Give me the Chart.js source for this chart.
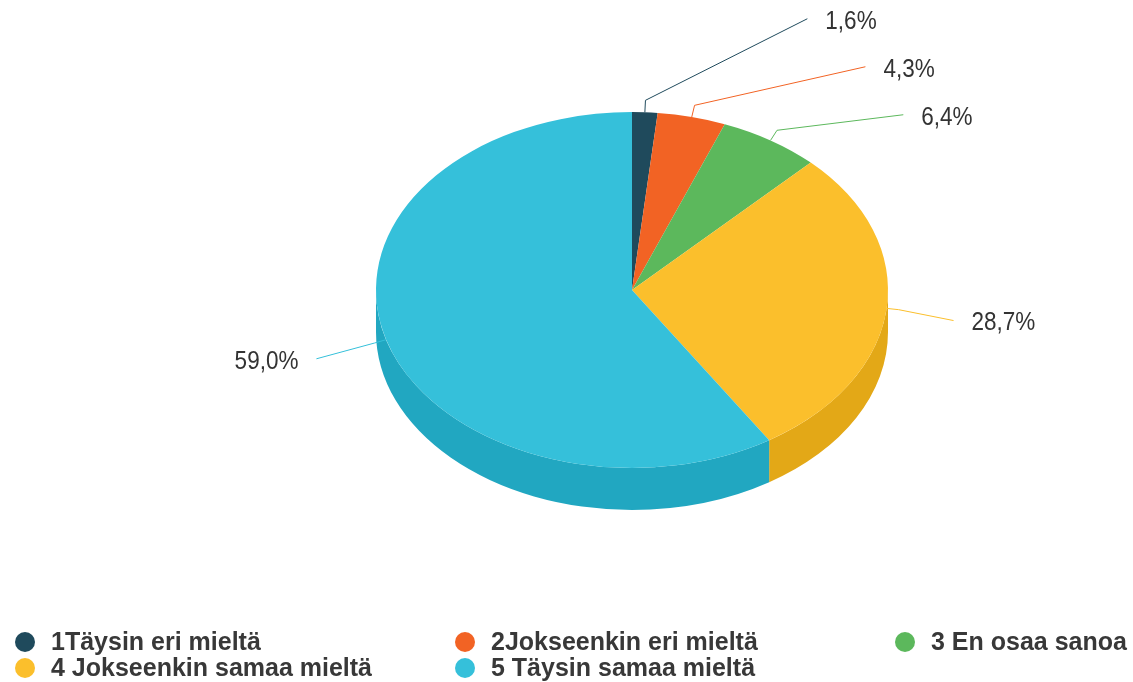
<!DOCTYPE html>
<html>
<head>
<meta charset="utf-8">
<script src="https://cdn.jsdelivr.net/npm/chart.js@4"></script>
<style>
  body { margin: 0; background: #fff; }
  canvas { display: block; }
</style>
</head>
<body>
<canvas id="pie3d" width="1133" height="682"></canvas>
<script>
const labels = ['1Täysin eri mieltä', '2Jokseenkin eri mieltä', '3 En osaa sanoa', '4 Jokseenkin samaa mieltä', '5 Täysin samaa mieltä'];
const values = [1.6, 4.3, 6.4, 28.7, 59.0];
const colors = ['#1f4a5c', '#f26324', '#5cb85c', '#fbbf2c', '#35c0da'];
const sideColors = ['#173a48', '#d4531b', '#4a9e4a', '#e3a817', '#21a7c1'];

const tilt = 0.695;   // vertical squash of the top face
const depth = 42;     // thickness of the pie

function fmt(v) {
    return v.toFixed(1).replace('.', ',') + '%';
}

// draws the side wall, then squashes the top face
const pie3d = {
    id: 'pie3d',
    beforeDatasetsDraw(chart) {
        const ctx = chart.ctx;
        const arcs = chart.getDatasetMeta(0).data;
        const cx = arcs[0].x, cy = arcs[0].y, r = arcs[0].outerRadius;
        const ry = r * tilt;
        arcs.forEach((arc, i) => {
            let a1 = Math.max(arc.startAngle, 0);
            let a2 = Math.min(arc.endAngle, Math.PI);
            if (a2 <= a1) return;
            ctx.beginPath();
            ctx.ellipse(cx, cy, r, ry, 0, a1, a2);
            ctx.ellipse(cx, cy + depth, r, ry, 0, a2, a1, true);
            ctx.closePath();
            ctx.fillStyle = sideColors[i];
            ctx.fill();
        });
        ctx.save();
        ctx.translate(0, cy);
        ctx.scale(1, tilt);
        ctx.translate(0, -cy);
    },
    afterDatasetsDraw(chart) {
        chart.ctx.restore();
    },
    afterDraw(chart) {
        const ctx = chart.ctx;
        const arcs = chart.getDatasetMeta(0).data;
        const cx = arcs[0].x, cy = arcs[0].y, r = arcs[0].outerRadius;
        const ry = r * tilt;
        const R = r + 67;

        // label positions, pushed apart on each side
        const items = arcs.map((arc, i) => {
            const mid = (arc.startAngle + arc.endAngle) / 2;
            return {
                i: i,
                mid: mid,
                right: Math.cos(mid) >= 0,
                y: cy + 8 + (ry + 40) * Math.sin(mid)
            };
        });
        [true, false].forEach(side => {
            const group = items.filter(it => it.right === side).sort((a, b) => b.y - a.y);
            for (let k = 1; k < group.length; k++) {
                group[k].y = Math.min(group[k].y, group[k - 1].y - 48);
            }
        });

        ctx.save();
        ctx.lineWidth = 1;
        items.forEach(it => {
            const sx = cx + r * Math.cos(it.mid);
            const sy = cy + ry * Math.sin(it.mid);
            const ex = sx + 12 * Math.cos(it.mid);
            const ey = sy + 12 * Math.sin(it.mid);
            const dy = it.y - cy;
            const w = Math.sqrt(Math.max(R * R - dy * dy, 0));
            const lx = it.right ? cx + w : cx - w;
            ctx.strokeStyle = colors[it.i];
            ctx.beginPath();
            ctx.moveTo(sx, sy);
            ctx.lineTo(ex, ey);
            ctx.lineTo(lx, it.y);
            ctx.stroke();

            const tx = it.right ? lx + 18 : lx - 18;
            ctx.save();
            ctx.translate(tx, it.y + 3);
            ctx.scale(0.9, 1);
            ctx.font = '25px "Liberation Sans", Arial, sans-serif';
            ctx.fillStyle = '#333';
            ctx.textBaseline = 'middle';
            ctx.textAlign = it.right ? 'left' : 'right';
            ctx.fillText(fmt(values[it.i]), 0, 0);
            ctx.restore();
        });

        // legend, three columns
        ctx.font = 'bold 25px "Liberation Sans", Arial, sans-serif';
        ctx.textBaseline = 'alphabetic';
        ctx.textAlign = 'left';
        labels.forEach((lab, i) => {
            const x = 15 + (i % 3) * 440;
            const base = 650 + Math.floor(i / 3) * 26;
            ctx.fillStyle = colors[i];
            ctx.beginPath();
            ctx.arc(x + 10, base - 8, 10, 0, Math.PI * 2);
            ctx.fill();
            ctx.fillStyle = '#383838';
            ctx.fillText(lab, x + 36, base);
        });
        ctx.restore();
    }
};

const ctx = document.getElementById('pie3d').getContext('2d');
const chart = new Chart(ctx, {
    type: 'pie',
    data: {
        labels: labels,
        datasets: [{
            data: values,
            backgroundColor: colors,
            borderWidth: 0,
            clip: false
        }]
    },
    options: {
        responsive: false,
        animation: false,
        layout: {
            padding: { top: 34, bottom: 136, left: 131, right: 0 }
        },
        plugins: {
            legend: { display: false },
            tooltip: { enabled: false }
        }
    },
    plugins: [pie3d]
});
</script>
</body>
</html>
